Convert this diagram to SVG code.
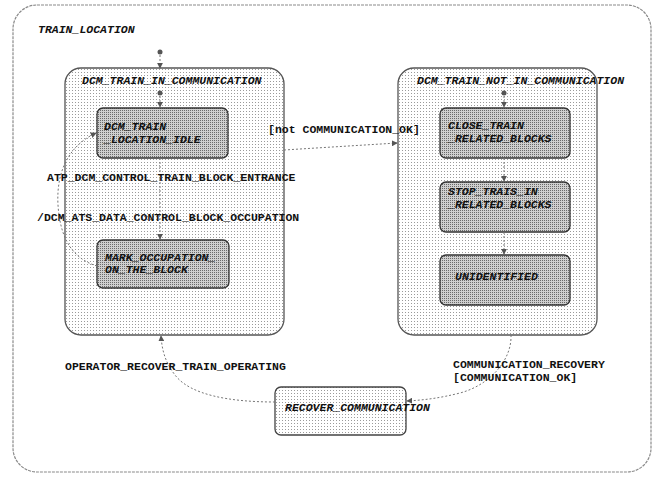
<svg xmlns="http://www.w3.org/2000/svg" width="657" height="483" viewBox="0 0 657 483">
<defs>
<pattern id="light" width="3" height="3" patternUnits="userSpaceOnUse">
<rect width="3" height="3" fill="#ffffff"/>
<rect width="1" height="1" fill="#9a9a9a"/>
</pattern>
<pattern id="dark" width="2" height="2" patternUnits="userSpaceOnUse">
<rect width="2" height="2" fill="#cfcfcf"/>
<rect width="1" height="1" fill="#6a6a6a"/>
</pattern>
<marker id="arr" viewBox="0 0 8 8" refX="7" refY="4" markerWidth="6" markerHeight="6" orient="auto-start-reverse" markerUnits="userSpaceOnUse">
<path d="M0,0 L8,4 L0,8 z" fill="#555"/>
</marker>
</defs>
<style>
.frame{fill:#fff;stroke:#8a8a8a;stroke-width:1.2;stroke-dasharray:3 1}
.state{fill:url(#light);stroke:#555;stroke-width:1.3}
.box{fill:url(#dark);stroke:#333;stroke-width:1.3}
.rbox{fill:url(#light);stroke:#444;stroke-width:1.3}
.nm{font-family:"Liberation Mono",monospace;font-weight:bold;font-style:italic;font-size:11.5px;fill:#111}
.lbl{font-family:"Liberation Mono",monospace;font-weight:bold;font-size:11.5px;fill:#111}
.con{fill:none;stroke:#777;stroke-width:1;stroke-dasharray:2 2;marker-end:url(#arr)}
.dot{fill:#555}
</style>
<rect width="657" height="483" fill="#fff"/>

<g id="train_location">
<rect class="frame" x="13" y="5" width="638" height="467" rx="24"/>
<text class="nm" x="38" y="33">TRAIN_LOCATION</text>
</g>

<g id="dcm_train_in_communication">
<rect class="state" x="65" y="68" width="219" height="267" rx="16"/>
<text class="nm" x="82" y="84">DCM_TRAIN_IN_COMMUNICATION</text>
</g>

<g id="dcm_train_location_idle">
<rect class="box" x="97" y="108" width="131" height="50" rx="6"/>
<text class="nm" x="104" y="130">DCM_TRAIN</text>
<text class="nm" x="104" y="143">_LOCATION_IDLE</text>
</g>

<g id="mark_occupation">
<rect class="box" x="97" y="240" width="132" height="48" rx="6"/>
<text class="nm" x="105" y="261">MARK_OCCUPATION_</text>
<text class="nm" x="105" y="273">ON_THE_BLOCK</text>
</g>

<g id="dcm_train_not_in_communication">
<rect class="state" x="398" y="68" width="199" height="267" rx="16"/>
<text class="nm" x="417" y="84">DCM_TRAIN_NOT_IN_COMMUNICATION</text>
</g>

<g id="close_train_related_blocks">
<rect class="box" x="440" y="108" width="130" height="50" rx="6"/>
<text class="nm" x="448" y="129">CLOSE_TRAIN</text>
<text class="nm" x="448" y="142">_RELATED_BLOCKS</text>
</g>

<g id="stop_trais_in_related_blocks">
<rect class="box" x="440" y="182" width="130" height="50" rx="6"/>
<text class="nm" x="448" y="195">STOP_TRAIS_IN</text>
<text class="nm" x="448" y="208">_RELATED_BLOCKS</text>
</g>

<g id="unidentified">
<rect class="box" x="440" y="255" width="130" height="50" rx="6"/>
<text class="nm" x="455" y="280">UNIDENTIFIED</text>
</g>

<g id="recover_communication">
<rect class="rbox" x="275" y="387" width="131" height="48" rx="6"/>
<text class="nm" x="285" y="411">RECOVER_COMMUNICATION</text>
</g>

<g id="initials">
<circle class="dot" cx="160" cy="52" r="2.5"/>
<circle class="dot" cx="160" cy="93" r="2.5"/>
<circle class="dot" cx="504" cy="93" r="2.5"/>
</g>

<g id="connectors">
<path class="con" d="M160,55 L160,68"/>
<path class="con" d="M160,96 L160,107"/>
<path class="con" d="M504,96 L504,107"/>
<path class="con" d="M160,158 L160,239"/>
<path class="con" d="M97,266 C70,258 60,235 58,205 C56,170 70,145 96,133"/>
<path class="con" d="M284,150 L300,149 L397,143"/>
<path class="con" d="M504,158 L504,181"/>
<path class="con" d="M504,232 L504,254"/>
<path class="con" d="M275,402 C230,402 190,395 175,375 C165,362 162,350 161,336"/>
<path class="con" d="M511,335 C512,360 490,385 460,393 C440,398 425,400 407,401"/>
<text class="lbl" x="47" y="181">ATP_DCM_CONTROL_TRAIN_BLOCK_ENTRANCE</text>
<text class="lbl" x="37" y="221">/DCM_ATS_DATA_CONTROL_BLOCK_OCCUPATION</text>
<text class="lbl" x="268" y="133">[not COMMUNICATION_OK]</text>
<text class="lbl" x="65" y="370">OPERATOR_RECOVER_TRAIN_OPERATING</text>
<text class="lbl" x="453" y="368">COMMUNICATION_RECOVERY</text>
<text class="lbl" x="453" y="381">[COMMUNICATION_OK]</text>
</g>
</svg>
